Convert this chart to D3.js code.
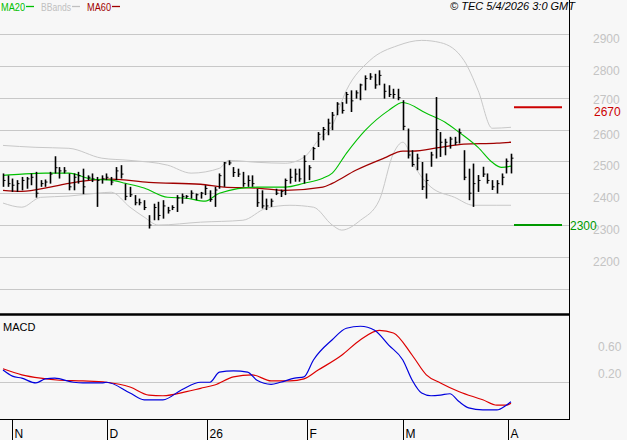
<!DOCTYPE html>
<html><head><meta charset="utf-8">
<script src="https://cdn.jsdelivr.net/npm/d3@7"></script>
<style>body{margin:0;background:#f7f7f7}svg{display:block;font-family:"Liberation Sans",Arial,sans-serif}</style>
</head><body><svg id="c" width="627" height="440"></svg>
<script>
const highs=[2462,2456,2446,2441,2451,2451,2462,2467,2441,2443,2467,2516,2482,2482,2462,2462,2467,2477,2456,2462,2451,2456,2462,2451,2482,2488,2430,2420,2394,2383,2378,2331,2367,2373,2378,2357,2362,2394,2399,2394,2409,2399,2404,2425,
2409,2420,2462,2498,2503,2482,2477,2467,2456,2456,2414,2409,2383,2383,2414,2411,2446,2477,2477,2477,2519,2488,
2545,2592,2608,2634,2655,2686,2686,2718,2723,2723,2744,2770,2777,2775,2786,2744,2739,2728,2728,2692,2603,
2535,2524,2498,2462,2530,2702,2592,2571,2577,2577,2603,2535,2477,2493,2457,2483,2462,2441,2441,2462,2509,2524];
const lows=[2420,2420,2404,2404,2409,2414,2425,2386,2420,2420,2430,2462,2446,2462,2409,2409,2430,2397,2441,2435,2357,2430,2441,2425,2441,2446,2378,2388,2362,2362,2347,2289,2315,2315,2320,2336,2347,2341,2367,2383,2383,2378,2383,2394,
2373,2357,2414,2420,2488,2451,2451,2420,2420,2420,2357,2352,2347,2357,2394,2388,2394,2430,2436,2436,2430,2441,
2504,2545,2566,2582,2598,2645,2650,2681,2655,2697,2692,2723,2756,2728,2739,2697,2702,2697,2692,2598,2509,
2483,2472,2410,2383,2483,2509,2514,2519,2540,2551,2556,2441,2378,2357,2404,2451,2430,2410,2399,2425,2462,2462];
const closes=[2440,2430,2425,2430,2440,2445,2450,2400,2430,2435,2460,2480,2470,2470,2420,2450,2455,2420,2450,2445,2440,2445,2450,2435,2470,2460,2390,2395,2370,2370,2355,2300,2355,2330,2360,2345,2355,2385,2390,2390,2400,2395,2400,2415,
2380,2410,2455,2495,2495,2465,2460,2430,2440,2430,2370,2360,2360,2375,2400,2405,2440,2450,2460,2445,2500,2480,
2540,2585,2600,2620,2645,2680,2660,2710,2690,2715,2740,2760,2765,2740,2770,2720,2710,2710,2700,2610,2520,
2490,2510,2420,2440,2520,2600,2560,2560,2570,2560,2590,2450,2400,2430,2440,2460,2440,2420,2430,2450,2500,2510];
const ma20=[[0,2456],[4,2460],[9,2463],[14,2463],[19,2444],[23,2441],[26,2431],[30,2416],[35,2387],[39,2384],[43,2375],[46,2400],[54,2419],[60,2419],[64,2431],[68,2447],[70,2463],[73,2525],[77,2597],[82,2660],[85,2685],[90,2651],[94,2623],[97,2591],[101,2544],[104,2497],[106,2481],[108,2485]];
const ma60=[[0,2409],[4,2406],[10,2419],[14,2431],[23,2444],[31,2434],[42,2428],[47,2419],[54,2416],[60,2409],[68,2419],[70,2431],[75,2472],[81,2510],[85,2532],[87,2532],[93,2544],[98,2554],[105,2557],[108,2560]];
const bbUp=[[0,2550],[7,2544],[14,2541],[21,2510],[27,2503],[35,2488],[40,2463],[46,2478],[48,2503],[54,2497],[60,2494],[64,2513],[67,2566],[70,2613],[73,2723],[78,2817],[84,2864],[89,2880],[93,2873],[98,2817],[101,2723],[104,2604],[108,2607]];
const bbLo=[[0,2369],[4,2356],[8,2387],[14,2391],[20,2400],[23,2403],[27,2356],[30,2325],[33,2300],[42,2309],[51,2315],[56,2353],[61,2362],[66,2356],[70,2300],[72,2284],[76,2315],[80,2378],[83,2525],[85,2560],[88,2472],[91,2419],[96,2387],[100,2362],[105,2362],[108,2362]];
const macd=[[0,0.28],[2,0.19],[4,0.16],[7,0.09],[9,0.15],[11,0.16],[15,0.10],[17,0.09],[21,0.09],[22,0.10],[27,-0.06],[30,-0.16],[34,-0.16],[38,-0.01],[42,0.10],[44,0.10],[46,0.25],[49,0.27],[52,0.25],[54,0.13],[57,0.07],[59,0.10],[62,0.16],[64,0.18],[66,0.43],[70,0.73],[73,0.90],[76,0.93],[79,0.87],[82,0.65],[85,0.43],[87,0.13],[89,-0.06],[91,-0.10],[93,-0.09],[95,-0.07],[97,-0.19],[99,-0.28],[102,-0.31],[105,-0.31],[107,-0.24],[108,-0.19]];
const signal=[[0,0.30],[4,0.21],[8,0.16],[12,0.13],[17,0.12],[22,0.10],[27,0.03],[31,-0.09],[34,-0.10],[39,-0.04],[42,0.01],[45,0.06],[49,0.18],[53,0.21],[57,0.12],[61,0.12],[64,0.15],[67,0.28],[72,0.50],[76,0.73],[80,0.87],[83,0.83],[87,0.50],[90,0.21],[93,0.09],[97,-0.04],[102,-0.16],[105,-0.24],[107,-0.24],[108,-0.21]];
const priceTicks=[2200,2300,2400,2500,2600,2700,2800,2900];
const priceGrid=[2100,2200,2300,2400,2500,2600,2700,2800,2900];
const macdTicks=[0.2,0.6];
const macdGrid=[0.1];
const months=[{i:1.9,l:"N"},{i:22.1,l:"D"},{i:43.4,l:"26"},{i:64.7,l:"F"},{i:85.1,l:"M"},{i:107.4,l:"A"}];
const resistance=2670, support=2300;

const svg=d3.select("#c");
const x=d3.scaleLinear().domain([0,108]).range([3,511]);
const y=d3.scaleLinear().domain([2100,2900]).range([288.7,34]);
const ym=d3.scaleLinear().domain([0,1]).range([389,321.5]);
const R=569;
svg.selectAll(".pg").data(priceGrid).join("line").attr("x1",0).attr("x2",R).attr("y1",d=>Math.round(y(d))+0.5).attr("y2",d=>Math.round(y(d))+0.5).attr("stroke","#c8c8c8");
svg.selectAll(".mg").data(macdGrid).join("line").attr("x1",0).attr("x2",R).attr("y1",d=>Math.round(ym(d))+0.5).attr("y2",d=>Math.round(ym(d))+0.5).attr("stroke","#c8c8c8");
svg.selectAll(".pl").data(priceTicks).join("text").attr("x",593).attr("y",d=>y(d)+(d===2700?6:9)).attr("fill","#c4c4c4").attr("font-size",12).text(d=>d);
svg.selectAll(".ml").data(macdTicks).join("text").attr("x",598).attr("y",d=>ym(d)+2).attr("fill","#c4c4c4").attr("font-size",12).text(d=>d.toFixed(2));
const line=d3.line().x(d=>x(d[0])).y(d=>y(d[1])).curve(d3.curveMonotoneX);
svg.append("path").attr("d",line(bbUp)).attr("fill","none").attr("stroke","#c8c8c8");
svg.append("path").attr("d",line(bbLo)).attr("fill","none").attr("stroke","#c8c8c8");
svg.append("path").attr("d",line(ma60)).attr("fill","none").attr("stroke","#a00000").attr("stroke-width",1.3);
svg.append("path").attr("d",line(ma20)).attr("fill","none").attr("stroke","#00c000").attr("stroke-width",1.1);
const g=svg.append("g").attr("stroke","#000").attr("stroke-width",1.6);
closes.forEach((c,i)=>{
  const xi=Math.round(x(i))+0.5;
  g.append("line").attr("x1",xi).attr("x2",xi).attr("y1",y(highs[i])).attr("y2",y(lows[i]));
  g.append("line").attr("x1",xi).attr("x2",xi+2).attr("y1",y(c)).attr("y2",y(c)).attr("stroke-width",1);
});
svg.append("line").attr("x1",514).attr("x2",562).attr("y1",y(resistance)).attr("y2",y(resistance)).attr("stroke","#cc0000").attr("stroke-width",2);
svg.append("text").attr("x",594).attr("y",y(resistance)+9).attr("fill","#cc0000").attr("font-size",12).text(resistance);
svg.append("line").attr("x1",514).attr("x2",562).attr("y1",y(support)).attr("y2",y(support)).attr("stroke","#009900").attr("stroke-width",2);
svg.append("text").attr("x",570).attr("y",y(support)+5).attr("fill","#009900").attr("font-size",12).text(support);
const ml=d3.line().x(d=>x(d[0])).y(d=>ym(d[1])).curve(d3.curveMonotoneX);
svg.append("path").attr("d",ml(signal)).attr("fill","none").attr("stroke","#dd0000").attr("stroke-width",1.2);
svg.append("path").attr("d",ml(macd)).attr("fill","none").attr("stroke","#0000dd").attr("stroke-width",1.2);
svg.append("line").attr("x1",R+0.5).attr("x2",R+0.5).attr("y1",0).attr("y2",420).attr("stroke","#000");
svg.append("line").attr("x1",0).attr("x2",R).attr("y1",314.5).attr("y2",314.5).attr("stroke","#000").attr("stroke-width",2.5);
svg.append("line").attr("x1",0).attr("x2",R+1).attr("y1",419.5).attr("y2",419.5).attr("stroke","#000");
months.forEach(m=>{const xm=Math.round(x(m.i))+0.5;
  svg.append("line").attr("x1",xm).attr("x2",xm).attr("y1",419).attr("y2",440).attr("stroke","#000");
  svg.append("text").attr("x",xm+2).attr("y",438).attr("font-size",12).attr("fill","#000").text(m.l);});
svg.append("text").attr("x",3).attr("y",331).attr("font-size",11).text("MACD");
const leg=[{t:"MA20",c:"#00c000",x:1,w:24,lx:26},{t:"BBands",c:"#c0c0c0",x:41,w:30,lx:72},{t:"MA60",c:"#a00000",x:87,w:24,lx:112}];
leg.forEach(l=>{svg.append("text").attr("x",l.x).attr("y",11).attr("font-size",11).attr("textLength",l.w).attr("lengthAdjust","spacingAndGlyphs").attr("fill",l.c).text(l.t);
  svg.append("line").attr("x1",l.lx).attr("x2",l.lx+8).attr("y1",6.5).attr("y2",6.5).attr("stroke",l.c).attr("stroke-width",1.3);});
svg.append("text").attr("x",575).attr("y",10).attr("text-anchor","end").attr("font-size",11).attr("font-style","italic").text("© TEC 5/4/2026 3:0 GMT");
</script></body></html>
